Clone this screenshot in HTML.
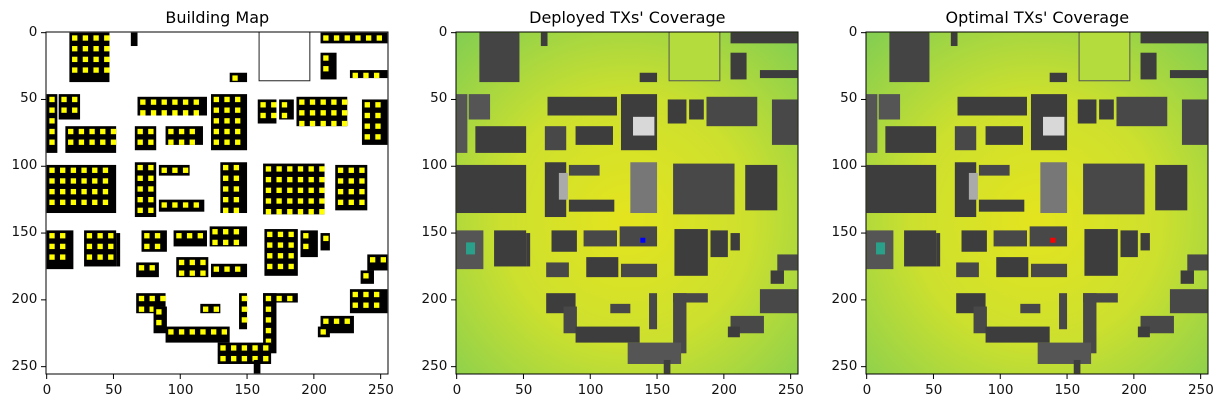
<!DOCTYPE html>
<html><head><meta charset="utf-8">
<style>
body{margin:0;background:#fff;width:1224px;height:407px;overflow:hidden;font-family:"DejaVu Sans","Liberation Sans",sans-serif;}
#root{position:relative;width:1224px;height:407px;}
.t{position:absolute;font-size:13.5px;color:#111;}
.title{position:absolute;font-size:16px;color:#000;text-align:center;width:342px;top:8px;}
</style></head>
<body><div id="root"></div>
<script>
// building rectangles in image units: x0,y0,x1,y1
const bx0=[17,63,137,205,205,227,0,9,14,68,66,89,123,158,174,187,236,0,66,84,84,130,162,216,0,28,52,71,95,122,97,67,123,163,190,205,240,235,227,67,80,89,115,144,162,162,128,155,205,203];
const by0=[0,0,30,0,15,28,46,46,70,48,70,70,46,50,50,48,50,99,97,99,125,97,98,99,148,148,150,148,148,145,168,172,173,147,148,150,166,178,192,195,205,220,203,195,195,195,232,245,212,220];
const bx1=[47,68,150,255,217,255,8,25,52,120,82,117,150,172,185,225,255,52,82,107,118,150,208,240,20,52,55,90,120,150,121,84,150,188,203,212,255,245,255,89,90,137,130,150,188,172,168,160,230,212];
const by1=[37,10,37,8,35,34,90,65,90,62,88,84,88,68,65,70,84,135,138,107,134,135,136,133,177,175,175,164,160,160,183,183,183,182,168,163,178,188,210,210,225,232,210,222,202,240,248,255,225,228];
const shade=[3,0,0,0,0,0,1,1,0,0,2,0,0,0,0,2,2,0,0,2,0,0,2,0,1,0,0,0,2,2,0,2,2,0,0,0,2,0,2,0,2,0,2,2,2,2,1,0,2,0];
const xTicks=[0,50,100,150,200,250];
const yTicks=[0,50,100,150,200,250];
const txX=[139,139], txY=[155,155];
const panels=["Building Map","Deployed TXs' Coverage","Optimal TXs' Coverage"];
const lefts=[46.3,456.3,866.3], TOP=32, SZ=342;
const sx=v=>(v+0.5)*SZ/256;
const root=document.getElementById('root');
const NS='http://www.w3.org/2000/svg';
panels.forEach((name,p)=>{
  const L=lefts[p];
  const t=document.createElement('div');t.className='title';t.style.left=L+'px';t.textContent=name;
  
  
  root.appendChild(t);
  const svg=document.createElementNS(NS,'svg');
  svg.setAttribute('width',SZ+12);svg.setAttribute('height',SZ+12);
  svg.style.position='absolute';svg.style.left=(L-6)+'px';svg.style.top=(TOP-6)+'px';
  
  
  const g=document.createElementNS(NS,'g');g.setAttribute('transform','translate(6,6)');svg.appendChild(g);
  let h='';
  if(p>0){
    h+=`<defs><radialGradient id="rg${p}" cx="0.5" cy="0.55" r="0.72"><stop offset="0" stop-color="#e4e41e"/><stop offset="0.5" stop-color="#cde02e"/><stop offset="1" stop-color="#86cf50"/></radialGradient></defs>`;
    h+=`<rect x="0" y="0" width="${SZ}" height="${SZ}" fill="url(#rg${p})"/>`;
    h+=`<rect x="${sx(159)}" y="0" width="${sx(197)-sx(159)}" height="${sx(36)}" fill="#b4dc3c" stroke="#555" stroke-width="1"/>`;
  } else {
    h+=`<rect x="0" y="0" width="${SZ}" height="${SZ}" fill="#fff"/>`;
    h+=`<rect x="${sx(159)}" y="0" width="${sx(197)-sx(159)}" height="${sx(36)}" fill="none" stroke="#222" stroke-width="1"/>`;
  }
  const cols=['#3d3d3d','#555555','#484848','#444'];
  for(let i=0;i<bx0.length;i++){
    const x=sx(bx0[i]),y=sx(by0[i]),w=sx(bx1[i])-x,hh=sx(by1[i])-y;
    let fill=p==0?'#000':(i==21?'#777':cols[shade[i]]);
    h+=`<rect x="${x}" y="${y}" width="${w}" height="${hh}" fill="${fill}"/>`;
    if(p==0){
      for(let xx=bx0[i]+2;xx<=bx1[i]-4;xx+=8)for(let yy=by0[i]+2;yy<=by1[i]-4;yy+=8)
        h+=`<rect x="${sx(xx)}" y="${sx(yy)}" width="${sx(4)-sx(0)}" height="${sx(4)-sx(0)}" fill="#ff0"/>`;
    }
  }
  if(p>0){
    h+=`<rect x="${sx(81)-6}" y="${sx(105)}" width="9" height="${sx(125)-sx(105)}" fill="#aaa"/>`;
    h+=`<rect x="${sx(132)}" y="${sx(63)}" width="${sx(148)-sx(132)}" height="${sx(77)-sx(63)}" fill="#d8d8d8"/>`;
    h+=`<rect x="${sx(10)-4}" y="${sx(157)}" width="9" height="12" fill="#2aa08a"/>`;
    h+=`<rect x="${sx(txX[p-1])-2}" y="${sx(txY[p-1])-2}" width="5" height="5" fill="${p==1?'#0000ff':'#ff0000'}"/>`;
  }
  h+=`<rect x="0" y="0" width="${SZ}" height="${SZ}" fill="none" stroke="#000" stroke-width="1"/>`;
  xTicks.forEach(v=>{h+=`<line x1="${sx(v)}" x2="${sx(v)}" y1="${SZ}" y2="${SZ+5}" stroke="#000"/>`;});
  yTicks.forEach(v=>{h+=`<line y1="${sx(v)}" y2="${sx(v)}" x1="-5" x2="0" stroke="#000"/>`;});
  g.innerHTML=h;
  root.appendChild(svg);
  xTicks.forEach(v=>{const d=document.createElement('div');d.className='t';d.textContent=v;
    
    
    d.style.left=(L+sx(v)-20)+'px';d.style.width='40px';d.style.textAlign='center';d.style.top=(TOP+SZ+8)+'px';root.appendChild(d);});
  yTicks.forEach(v=>{const d=document.createElement('div');d.className='t';d.textContent=v;
    
    
    d.style.left=(L-49)+'px';d.style.width='40px';d.style.textAlign='right';d.style.top=(TOP+sx(v)-9)+'px';root.appendChild(d);});
});
</script>
</body></html>
